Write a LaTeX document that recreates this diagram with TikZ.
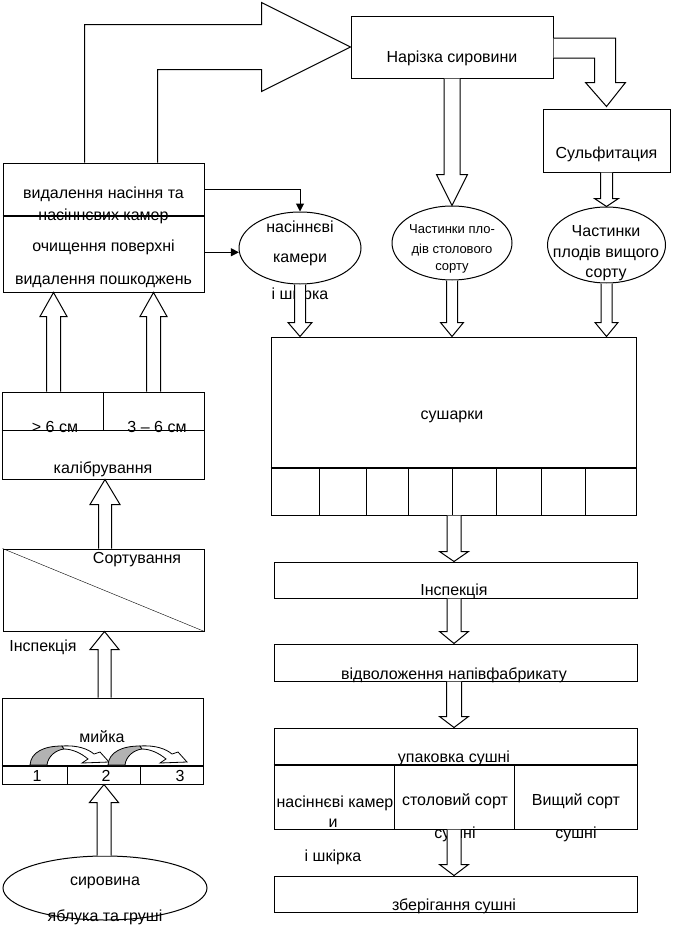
\documentclass[tikz,border=0pt]{standalone}
\usepackage{fontspec}
\setmainfont{Liberation Sans}
\usepackage{tikz}
\usetikzlibrary{shapes,arrows,arrows.meta,calc}

\tikzset{
  box/.style={draw, line width=1pt, inner sep=0pt},
  oval/.style={draw, ellipse, line width=1pt, inner sep=0pt},
  txt/.style={inner sep=0pt, font=\fontsize{16}{19}\selectfont},
  small/.style={inner sep=0pt, font=\fontsize{13}{16}\selectfont},
  fatarr/.style={draw, fill=white, line width=1pt, line join=miter},
  thickline/.style={line width=2pt},
  thinarr/.style={-{Triangle[length=8pt,width=8pt]}, line width=1pt},
}

% hollow arrow: stem half width, head half width, head length, from, to
\newcommand\fatarrow[5]{%
  \coordinate (fa-base) at ($(#5)!#3!(#4)$);
  \draw[fatarr] ($(#4)!#1!90:(#5)$) -- ($(fa-base)!#1!90:(#5)$) -- ($(fa-base)!#2!90:(#5)$)
    -- (#5) -- ($(fa-base)!#2!-90:(#5)$) -- ($(fa-base)!#1!-90:(#5)$) -- ($(#4)!#1!-90:(#5)$);
}

\begin{document}
\begin{tikzpicture}[x=1pt,y=-1pt]
\useasboundingbox (0,0) rectangle (699,926);

% top row
\node[box, minimum width=202pt, minimum height=62pt] (narizka) at (452,47) {};
\node[txt] (narizka-t) at (452,58) {Нарізка сировини};
\node[box, minimum width=127pt, minimum height=63pt] (sulf) at (606.5,140.5) {};
\node[txt] (sulf-t) at (606.5,154) {Сульфитация};

% ovals
\node[oval, minimum width=122pt, minimum height=72pt] (kamery) at (300,248) {};
\node[txt] (kamery-t1) at (300,227) {насіннєві};
\node[txt] (kamery-t2) at (300,260) {камери};
\node[txt] (kamery-t3) at (300,295) {і шкірка};
\node[oval, minimum width=120pt, minimum height=74pt] (chast1) at (452,243) {};
\node[small] (chast1-t1) at (452,229) {Частинки пло-};
\node[small] (chast1-t2) at (452,250) {дів столового};
\node[small] (chast1-t3) at (452,268) {сорту};
\node[oval, minimum width=118pt, minimum height=76pt] (chast2) at (606.5,245) {};
\node[txt] (chast2-t1) at (606,231) {Частинки};
\node[txt] (chast2-t2) at (606,253) {плодів вищого};
\node[txt] (chast2-t3) at (606,275) {сорту};

% left column
\node[box, minimum width=201pt, minimum height=129pt] (vydal) at (103.5,227.5) {};
\draw[thickline] ($(vydal.north west)+(0,53)$) -- ($(vydal.north east)+(0,53)$);
\node[txt] (vydal-t1) at (103.5,194) {видалення насіння та};
\node[txt] (vydal-t2) at (103.5,216) {насіннєвих камер};
\node[txt] (vydal-t3) at (103.5,247) {очищення поверхні};
\node[txt] (vydal-t4) at (103.5,282) {видалення пошкоджень};

\node[box, minimum width=202pt, minimum height=87pt] (kalib) at (103,435.5) {};
\draw ($(kalib.north west)+(0,39)$) -- ($(kalib.north east)+(0,39)$);
\draw (kalib.north) -- ++(0,39);
\node[txt] (kalib-t1) at (55,427) {> 6 см};
\node[txt] (kalib-t2) at (157,427) {3 – 6 см};
\node[txt] (kalib-t3) at (103,469) {калібрування};

\node[box, minimum width=201pt, minimum height=82pt] (sort) at (103.5,590) {};
\draw (sort.north west) -- (sort.south east);
\node[txt] (sort-t) at (137,560) {Сортування};
\node[txt] (insp1-t) at (43,647) {Інспекція};

\node[box, minimum width=201pt, minimum height=86pt] (myika) at (102.5,741) {};
\draw[thickline] ($(myika.north west)+(0,68)$) -- ($(myika.north east)+(0,68)$);
\draw ($(myika.south west)+(66,0)$) -- ++(0,-18);
\draw ($(myika.south west)+(139,0)$) -- ++(0,-18);
\node[txt] (myika-t) at (102,737) {мийка};
\node[txt] (myika-1) at (37,776) {1};
\node[txt] (myika-2) at (106,776) {2};
\node[txt] (myika-3) at (180,776) {3};
\foreach \dx in {0,78} {
  \begin{scope}[shift={(\dx,0)}]
    \draw[line width=0.8pt, fill=gray!60] (30,765) .. controls (31,752) and (44,746) .. (62,746)
      -- (64,749) .. controls (56,750) and (48,756) .. (47,765) -- cycle;
    \draw[line width=0.8pt, fill=white] (62,746) .. controls (78,745) and (88,749) .. (94,754)
      -- (100,752) -- (109,762) -- (82,763) -- (88,759) .. controls (81,753) and (72,749) .. (64,749) -- cycle;
  \end{scope}
}

\node[oval, minimum width=204pt, minimum height=64pt] (syrov) at (105,888) {};
\node[txt] (syrov-t1) at (105,883) {сировина};
\node[txt] (syrov-t2) at (105,917) {яблука та груші};

% right column
\node[box, minimum width=365pt, minimum height=178pt] (sushka) at (453.5,426) {};
\draw[thickline] ($(sushka.south west)+(0,-48)$) -- ($(sushka.south east)+(0,-48)$);
\foreach \dx in {49,96,138,182,226,271,315}
  \draw ($(sushka.south west)+(\dx,0)$) -- ++(0,-48);
\node[txt] (sushka-t) at (452,417) {сушарки};

\node[box, minimum width=363pt, minimum height=36pt] (insp) at (455.5,580) {};
\node[txt] (insp-t) at (454,591) {Інспекція};
\node[box, minimum width=363pt, minimum height=37pt] (vidv) at (455.5,662.5) {};
\node[txt] (vidv-t) at (454,675) {відволоження напівфабрикату};
\node[box, minimum width=363pt, minimum height=101pt] (upak) at (455.5,778.5) {};
\draw[thickline] ($(upak.north west)+(0,37)$) -- ($(upak.north east)+(0,37)$);
\draw ($(upak.south west)+(121,0)$) -- ++(0,-64);
\draw ($(upak.south west)+(241,0)$) -- ++(0,-64);
\node[txt] (upak-t) at (454,758) {упаковка сушні};
\node[txt] (upak-a1) at (335,803) {насіннєві камер};
\node[txt] (upak-a2) at (333,823) {и};
\node[txt] (upak-a3) at (333,857) {і шкірка};
\node[txt] (upak-b1) at (455,801) {столовий сорт};
\node[txt] (upak-b2) at (455,834) {сушні};
\node[txt] (upak-c1) at (576,801) {Вищий сорт};
\node[txt] (upak-c2) at (576,834) {сушні};
\node[box, minimum width=363pt, minimum height=36pt] (zber) at (455.5,894) {};
\node[txt] (zber-t) at (454,906) {зберігання сушні};

% big arrows
\draw[fatarr] ($(vydal.north west)+(82,0)$) |- ($(narizka.west)+(-89,-22.5)$) -- ++(0,-22)
  -- (narizka.west) -- ($(narizka.west)+(-89,44.5)$) -- ++(0,-22) -| ($(vydal.north west)+(155,0)$);
\draw[fatarr] ($(narizka.east)+(0,-9)$) -| ($(sulf.north)+(9,-26)$) -- ++(10,0)
  -- ($(sulf.north)+(0,-2)$) -- ($(sulf.north)+(-21,-26)$) -- ++(9,0) |- ($(narizka.east)+(0,11)$);

% hollow arrows
\fatarrow{8pt}{15.5pt}{31pt}{narizka.south}{chast1.north}
\fatarrow{6pt}{12pt}{8pt}{sulf.south}{chast2.north}
\coordinate (k-in) at (kamery.south |- sushka.north);
\coordinate (c1-in) at (chast1.south |- sushka.north);
\coordinate (c2-in) at (chast2.south |- sushka.north);
\fatarrow{5.5pt}{12pt}{14pt}{kamery.south}{k-in}
\fatarrow{5.5pt}{11.5pt}{14pt}{chast1.south}{c1-in}
\fatarrow{5.5pt}{11.5pt}{14pt}{chast2.south}{c2-in}

\coordinate (col) at (454,0);
\coordinate (su-out) at (col |- sushka.south);
\coordinate (in-in) at (col |- insp.north);
\coordinate (in-out) at (col |- insp.south);
\coordinate (vi-in) at (col |- vidv.north);
\coordinate (vi-out) at (col |- vidv.south);
\coordinate (up-in) at (col |- upak.north);
\coordinate (up-out) at (col |- upak.south);
\coordinate (zb-in) at (col |- zber.north);
\fatarrow{7pt}{14.5pt}{10pt}{su-out}{in-in}
\fatarrow{7pt}{14.5pt}{12pt}{in-out}{vi-in}
\fatarrow{7.5pt}{14.5pt}{11pt}{vi-out}{up-in}
\fatarrow{7pt}{14.5pt}{11pt}{up-out}{zb-in}

\coordinate (kal-l) at ($(kalib.north west)+(52,0)$);
\coordinate (kal-r) at ($(kalib.north west)+(152,0)$);
\coordinate (vyd-l) at (kal-l |- vydal.south);
\coordinate (vyd-r) at (kal-r |- vydal.south);
\fatarrow{7pt}{13.5pt}{24pt}{kal-l}{vyd-l}
\fatarrow{7pt}{13.5pt}{24pt}{kal-r}{vyd-r}
\coordinate (so-out) at ($(sort.north)+(1.5,0)$);
\coordinate (ka-in) at (so-out |- kalib.south);
\fatarrow{6.5pt}{15pt}{25pt}{so-out}{ka-in}
\coordinate (my-out) at ($(myika.north)+(2,0)$);
\coordinate (so-in) at (my-out |- sort.south);
\fatarrow{6.5pt}{14.5pt}{18pt}{my-out}{so-in}
\coordinate (sy-out) at ($(syrov.north)+(-1,0)$);
\coordinate (my-in) at (sy-out |- myika.south);
\fatarrow{7pt}{14.5pt}{18pt}{sy-out}{my-in}

% thin arrows
\coordinate (vyd-o1) at ($(vydal.north east)+(0,27)$);
\draw[thinarr] (vyd-o1) -| (kamery.north);
\coordinate (vyd-o2) at (vydal.east |- kamery.184);
\draw[thinarr] (vyd-o2) -- (kamery.184);
\end{tikzpicture}
\end{document}
